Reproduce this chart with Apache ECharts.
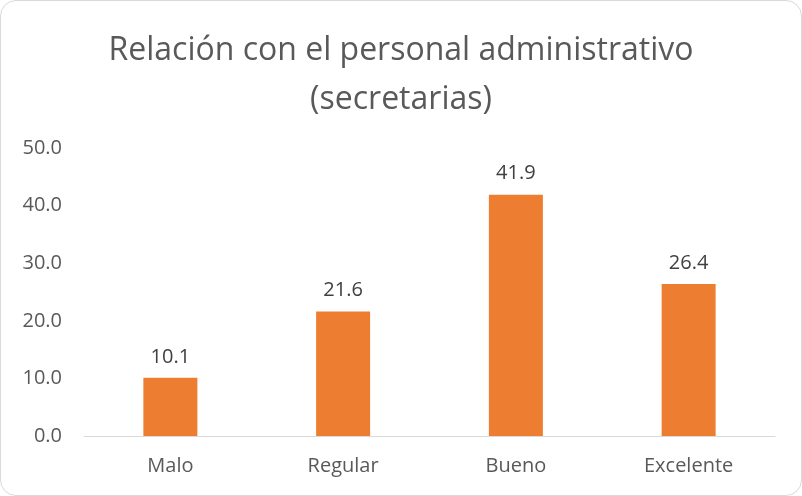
<!DOCTYPE html>
<html>
<head>
<meta charset="utf-8">
<script src="https://cdn.jsdelivr.net/npm/echarts@6/dist/echarts.min.js"></script>
<style>
  html, body { margin: 0; padding: 0; background: #fff; }
  .chart { width: 800px; height: 494px; border: 1px solid #d9d9d9; border-radius: 16px; overflow: hidden; }
</style>
</head>
<body>
<div class="chart"></div>
<script>
// datos del gráfico
var categorias = ['Malo', 'Regular', 'Bueno', 'Excelente'];
var valores = [10.1, 21.6, 41.9, 26.4];
var titulo = 'Relación con el personal administrativo\n(secretarias)';

var chart = echarts.init(document.querySelector('.chart'));

var option = {
  animation: false,
  textStyle: { fontFamily: 'Open Sans' },
  title: {
    text: titulo,
    left: 'center',
    top: 20,
    textStyle: {
      fontFamily: 'Open Sans',
      fontSize: 32,
      fontWeight: 'normal',
      color: '#595959',
      lineHeight: 49
    }
  },
  grid: {
    left: 83,
    right: 26,
    top: 147,
    bottom: 59
  },
  xAxis: {
    type: 'category',
    data: categorias,
    axisLine: { lineStyle: { color: '#d9d9d9', width: 1 } },
    axisTick: { show: false },
    axisLabel: { color: '#595959', fontSize: 20, margin: 20 }
  },
  yAxis: {
    type: 'value',
    min: 0,
    max: 50,
    interval: 10,
    splitLine: { show: false },
    axisLine: { show: false },
    axisTick: { show: false },
    axisLabel: {
      color: '#595959',
      fontSize: 20,
      margin: 22,
      formatter: function (v) { return v.toFixed(1); }
    }
  },
  series: [{
    type: 'bar',
    data: valores,
    barWidth: 54,
    itemStyle: { color: '#ED7D31' },
    label: {
      show: true,
      position: 'top',
      distance: 11,
      color: '#404040',
      fontSize: 20,
      formatter: function (p) { return p.value.toFixed(1); }
    }
  }]
};

chart.setOption(option);
</script>
</body>
</html>
